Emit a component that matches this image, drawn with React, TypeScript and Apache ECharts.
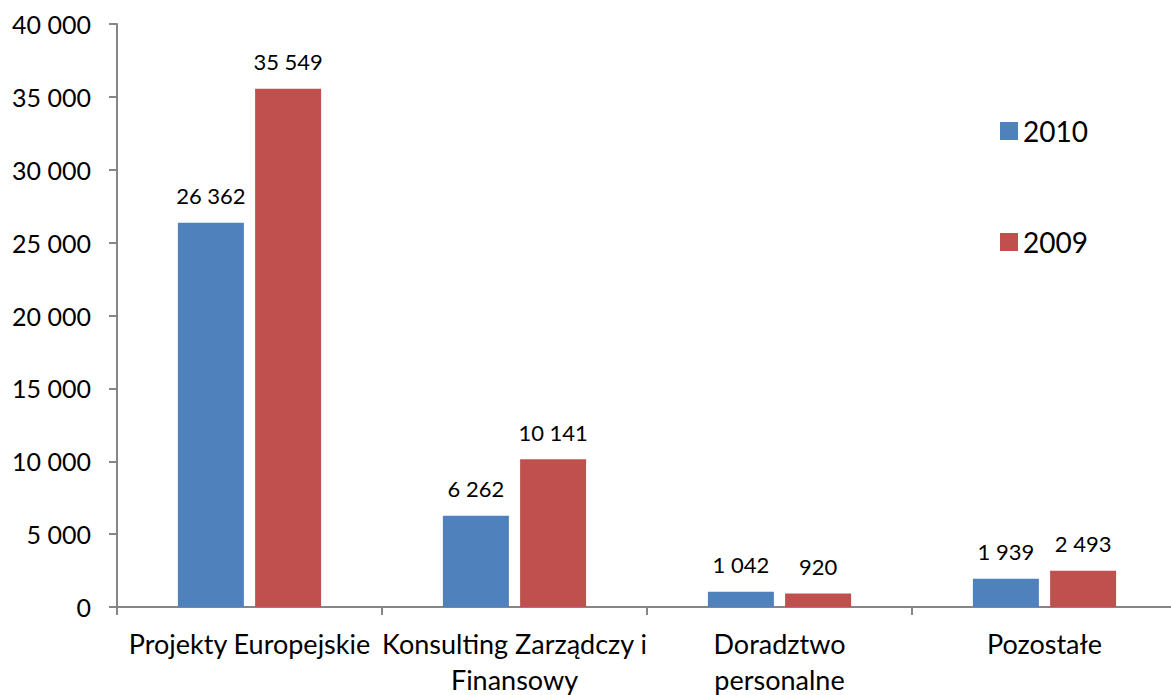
import React, { useEffect, useRef } from "react";
import * as echarts from "echarts";

const categories = [
  "Projekty Europejskie",
  "Konsulting Zarządczy i\nFinansowy",
  "Doradztwo\npersonalne",
  "Pozostałe",
];
const seriesNames = ["2010", "2009"];
const values2010 = [26362, 6262, 1042, 1939];
const values2009 = [35549, 10141, 920, 2493];
const colors = ["#4F81BD", "#C0504D"];

const fmt = (v: number) => String(v).replace(/\B(?=(\d{3})+(?!\d))/g, " ");

const FONT = "Lato, 'Open Sans', sans-serif";

export default function App() {
  const ref = useRef<HTMLDivElement>(null);
  useEffect(() => {
    if (!ref.current) return;
    const chart = echarts.init(ref.current, null, { renderer: "svg" });
    const mk = (name: string, data: number[], color: string) => ({
      name,
      type: "bar",
      data,
      barWidth: 66,
      barGap: "17%",
      itemStyle: { color },
      label: {
        show: true,
        position: "top",
        distance: 16,
        formatter: (p: any) => fmt(p.value),
        color: "#000",
        fontFamily: FONT,
        fontSize: 22,
      },
    });
    chart.setOption({
      animation: false,
      backgroundColor: "#fff",
      textStyle: { fontFamily: FONT },
      grid: {
        left: 117,
        top: 24,
        bottom: 88,
        right: -6,
        containLabel: false,
        outerBoundsMode: "none",
      },
      legend: {
        orient: "vertical",
        left: 995,
        top: 112,
        itemGap: 83,
        itemWidth: 18,
        itemHeight: 18,
        icon: "rect",
        data: seriesNames,
        textStyle: { fontFamily: FONT, fontSize: 28, color: "#000", lineHeight: 28, padding: [0, 0, 0, 0] },
      },
      xAxis: {
        type: "category",
        data: categories,
        axisLine: { lineStyle: { color: "#868686", width: 2 } },
        axisTick: { show: true, length: 8, alignWithLabel: false, lineStyle: { color: "#868686", width: 2 } },
        axisLabel: {
          color: "#000",
          fontFamily: FONT,
          fontSize: 27,
          lineHeight: 36,
          margin: 18,
          interval: 0,
        },
      },
      yAxis: {
        type: "value",
        min: 0,
        max: 40000,
        interval: 5000,
        splitLine: { show: false },
        axisLine: { show: true, lineStyle: { color: "#868686", width: 2 } },
        axisTick: { show: true, length: 8, lineStyle: { color: "#868686", width: 2 } },
        axisLabel: {
          color: "#000",
          fontFamily: FONT,
          fontSize: 25,
          margin: 26,
          formatter: (v: number) => fmt(v),
        },
      },
      series: [mk(seriesNames[0], values2010, colors[0]), mk(seriesNames[1], values2009, colors[1])],
    });
    return () => chart.dispose();
  }, []);
  return (
    <div
      ref={ref}
      style={{ position: "fixed", left: 0, top: 0, width: 1171, height: 695 }}
    />
  );
}
